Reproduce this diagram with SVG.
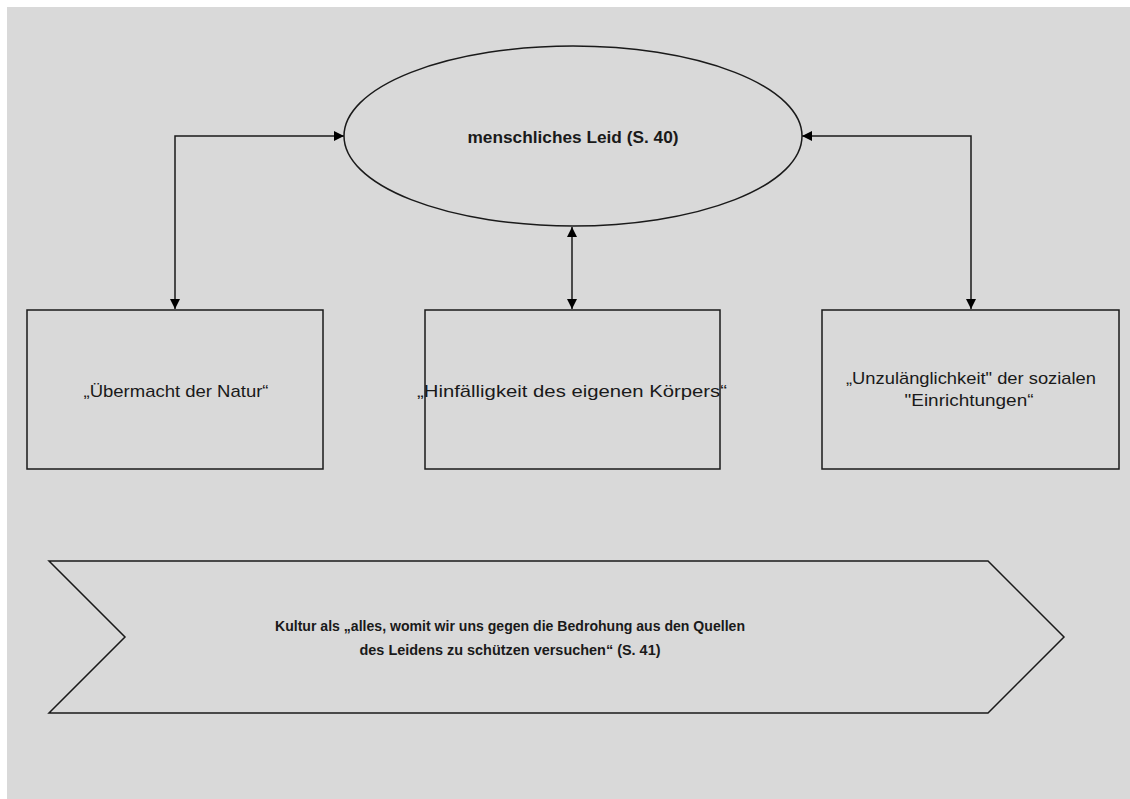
<svg xmlns="http://www.w3.org/2000/svg" width="1130" height="799" viewBox="0 0 1130 799">
<style>
.shape{fill:#d9d9d9;stroke:#1a1a1a;stroke-width:1.5}
.conn{fill:none;stroke:#1a1a1a;stroke-width:1.5}
.t{font-family:"Liberation Sans",Arial,sans-serif;fill:#1a1a1a;text-anchor:middle}
.b{font-weight:bold}
</style>
<defs>
<marker id="ah" markerUnits="userSpaceOnUse" markerWidth="10" markerHeight="10" refX="8" refY="4" orient="auto-start-reverse" viewBox="0 0 8 8">
<path d="M0,0 L8,4 L0,8 z" fill="#000"/>
</marker>
</defs>
<rect x="0" y="0" width="1130" height="799" fill="#ffffff"/>
<rect x="7" y="7" width="1123" height="792" fill="#d9d9d9"/>
<g id="connectors">
<path class="conn" d="M344,136 H175 V309" marker-start="url(#ah)" marker-end="url(#ah)"/>
<path class="conn" d="M572,227 V309" marker-start="url(#ah)" marker-end="url(#ah)"/>
<path class="conn" d="M802,136 H971 V309" marker-start="url(#ah)" marker-end="url(#ah)"/>
</g>
<g id="leid">
<ellipse class="shape" cx="573" cy="136" rx="229" ry="90"/>
<text class="t b" x="573" y="143" font-size="17" textLength="211" lengthAdjust="spacingAndGlyphs">menschliches Leid (S. 40)</text>
</g>
<g id="natur">
<rect class="shape" x="27" y="310" width="296" height="159"/>
<text class="t" x="176" y="397" font-size="17" textLength="185" lengthAdjust="spacingAndGlyphs">„Übermacht der Natur“</text>
</g>
<g id="koerper">
<rect class="shape" x="425" y="310" width="295" height="159"/>
<text class="t" x="572" y="397" font-size="17" textLength="310" lengthAdjust="spacingAndGlyphs">„Hinfälligkeit des eigenen Körpers“</text>
</g>
<g id="einrichtungen">
<rect class="shape" x="822" y="310" width="297" height="159"/>
<text class="t" x="971" y="384" font-size="17" textLength="250" lengthAdjust="spacingAndGlyphs">„Unzulänglichkeit" der sozialen</text>
<text class="t" x="969" y="406" font-size="17" textLength="129" lengthAdjust="spacingAndGlyphs">"Einrichtungen“</text>
</g>
<g id="kultur">
<polygon class="shape" stroke-width="2" points="49,561 988,561 1064,637 988,713 49,713 125,637"/>
<text class="t b" x="510" y="631" font-size="15" textLength="470" lengthAdjust="spacingAndGlyphs">Kultur als „alles, womit wir uns gegen die Bedrohung aus den Quellen</text>
<text class="t b" x="510" y="655" font-size="15" textLength="301" lengthAdjust="spacingAndGlyphs">des Leidens zu schützen versuchen“ (S. 41)</text>
</g>
</svg>
